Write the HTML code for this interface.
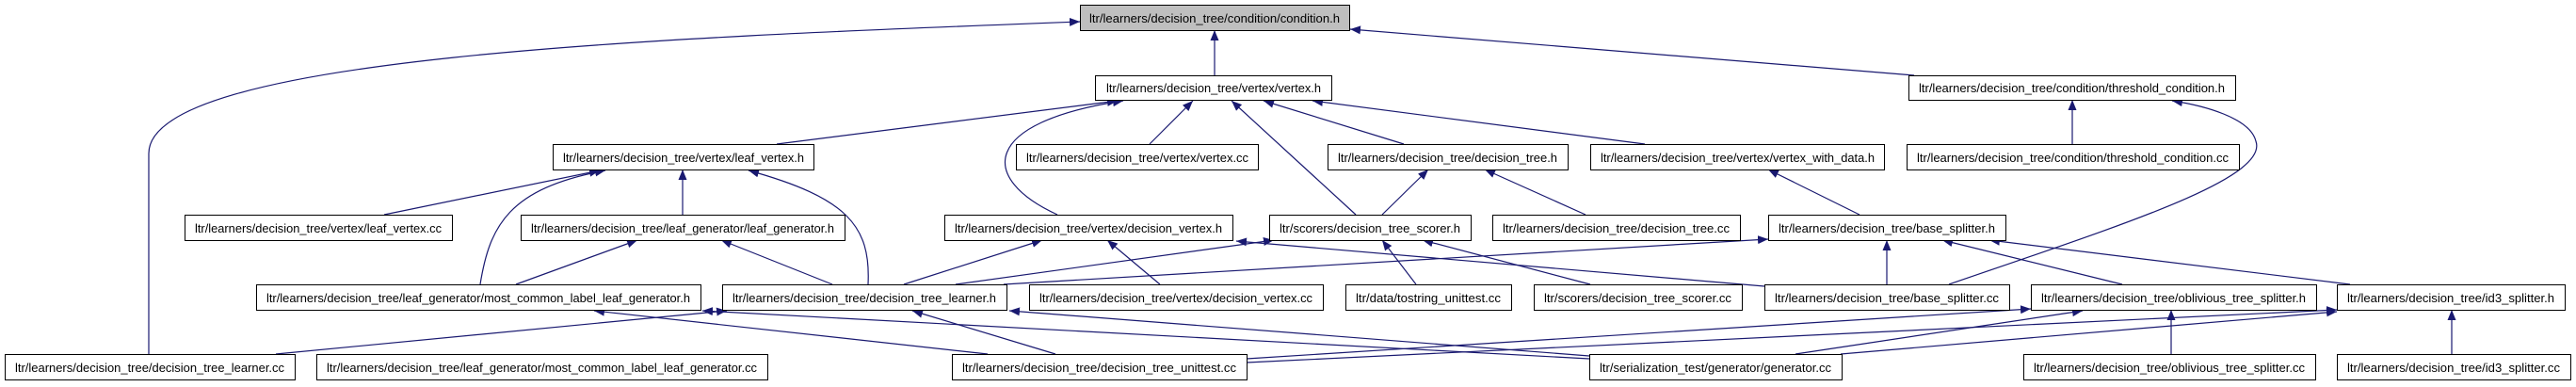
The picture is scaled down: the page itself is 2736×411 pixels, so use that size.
<!DOCTYPE html>
<html><head><meta charset="utf-8"><style>
html,body{margin:0;padding:0;background:#fff;}
svg{display:block;}
text{font-family:"Liberation Sans",sans-serif;font-size:13px;fill:#000;}
</style></head><body>
<svg width="2736" height="411" viewBox="0 0 2736 411" xmlns="http://www.w3.org/2000/svg">
<defs>
<marker id="a" markerUnits="userSpaceOnUse" markerWidth="12" markerHeight="10" refX="11" refY="4.5" orient="auto">
<path d="M0,0 L11,4.5 L0,9 Z" fill="#191970"/>
</marker>
</defs>
<g fill="none" stroke="#191970" stroke-width="1.2" marker-end="url(#a)">
<path d="M158,376 L158,163 C158,60 700,40 1147,23"/>
<path d="M1290,80 L1290,32"/>
<path d="M2033,80 L1434,31"/>
<path d="M825,153 L1187,107"/>
<path d="M1221,153 L1267,107"/>
<path d="M1123,228 C1040,190 1040,130 1193,107"/>
<path d="M1440,228 L1308,107"/>
<path d="M1491,153 L1342,107"/>
<path d="M1747,153 L1394,107"/>
<path d="M2201,153 L2201,106"/>
<path d="M2070,302 C2250,240 2410,190 2396,150 C2390,125 2340,112 2307,107"/>
<path d="M408,228 L637,181"/>
<path d="M725,228 L725,180"/>
<path d="M510,302 C520,240 540,200 643,181"/>
<path d="M922,302 C925,240 900,210 795,181"/>
<path d="M548,302 L677,255"/>
<path d="M884,302 L766,255"/>
<path d="M960,302 L1107,255"/>
<path d="M1232,302 L1176,255"/>
<path d="M1015,302 L1353,255"/>
<path d="M1504,302 L1468,255"/>
<path d="M1689,302 L1511,255"/>
<path d="M1468,228 L1517,180"/>
<path d="M1684,228 L1577,180"/>
<path d="M1975,228 L1878,180"/>
<path d="M1874,304 L1313,256"/>
<path d="M1066,302 L1878,254"/>
<path d="M2004,302 L2004,255"/>
<path d="M2254,302 L2063,255"/>
<path d="M2496,302 L2113,255"/>
<path d="M2306,376 L2306,329"/>
<path d="M2604,376 L2604,329"/>
<path d="M293,376 L772,330"/>
<path d="M1049,376 L631,330"/>
<path d="M1688,381 L746,330"/>
<path d="M1121,376 L969,330"/>
<path d="M1688,378 L1072,330"/>
<path d="M1324,381 L2157,328"/>
<path d="M1907,376 L2212,330"/>
<path d="M1324,385 L2482,329"/>
<path d="M1955,376 L2482,331"/>
</g>
<g stroke="#000" stroke-width="1" fill="#fff">
<rect x="1147.5" y="5.5" width="286" height="27" fill="#bfbfbf"/>
<rect x="1163.5" y="80.5" width="251" height="26"/>
<rect x="2027.5" y="80.5" width="347" height="26"/>
<rect x="587.5" y="153.5" width="277" height="27"/>
<rect x="1079.5" y="153.5" width="257" height="27"/>
<rect x="1410.5" y="153.5" width="255" height="27"/>
<rect x="1689.5" y="153.5" width="312" height="27"/>
<rect x="2025.5" y="153.5" width="353" height="27"/>
<rect x="196.5" y="228.5" width="284" height="27"/>
<rect x="553.5" y="228.5" width="344" height="27"/>
<rect x="1003.5" y="228.5" width="306" height="27"/>
<rect x="1348.5" y="228.5" width="214" height="27"/>
<rect x="1585.5" y="228.5" width="263" height="27"/>
<rect x="1878.5" y="228.5" width="252" height="27"/>
<rect x="272.5" y="302.5" width="472" height="27"/>
<rect x="767.5" y="302.5" width="302" height="27"/>
<rect x="1093.5" y="302.5" width="312" height="27"/>
<rect x="1429.5" y="302.5" width="176" height="27"/>
<rect x="1629.5" y="302.5" width="221" height="27"/>
<rect x="1874.5" y="302.5" width="260" height="27"/>
<rect x="2157.5" y="302.5" width="303" height="27"/>
<rect x="2482.5" y="302.5" width="242" height="27"/>
<rect x="5.5" y="376.5" width="308" height="27"/>
<rect x="336.5" y="376.5" width="479" height="27"/>
<rect x="1011.5" y="376.5" width="313" height="27"/>
<rect x="1688.5" y="376.5" width="268" height="27"/>
<rect x="2149.5" y="376.5" width="310" height="27"/>
<rect x="2482.5" y="376.5" width="248" height="27"/>
</g>
<g lengthAdjust="spacingAndGlyphs">
<text x="1157" y="24" textLength="266" lengthAdjust="spacingAndGlyphs">ltr/learners/decision_tree/condition/condition.h</text>
<text x="1175" y="98" textLength="228" lengthAdjust="spacingAndGlyphs">ltr/learners/decision_tree/vertex/vertex.h</text>
<text x="2038" y="98" textLength="325" lengthAdjust="spacingAndGlyphs">ltr/learners/decision_tree/condition/threshold_condition.h</text>
<text x="598" y="172" textLength="256" lengthAdjust="spacingAndGlyphs">ltr/learners/decision_tree/vertex/leaf_vertex.h</text>
<text x="1090" y="172" textLength="236" lengthAdjust="spacingAndGlyphs">ltr/learners/decision_tree/vertex/vertex.cc</text>
<text x="1421" y="172" textLength="233" lengthAdjust="spacingAndGlyphs">ltr/learners/decision_tree/decision_tree.h</text>
<text x="1700" y="172" textLength="291" lengthAdjust="spacingAndGlyphs">ltr/learners/decision_tree/vertex/vertex_with_data.h</text>
<text x="2036" y="172" textLength="331" lengthAdjust="spacingAndGlyphs">ltr/learners/decision_tree/condition/threshold_condition.cc</text>
<text x="207" y="247" textLength="262" lengthAdjust="spacingAndGlyphs">ltr/learners/decision_tree/vertex/leaf_vertex.cc</text>
<text x="564" y="247" textLength="322" lengthAdjust="spacingAndGlyphs">ltr/learners/decision_tree/leaf_generator/leaf_generator.h</text>
<text x="1014" y="247" textLength="284" lengthAdjust="spacingAndGlyphs">ltr/learners/decision_tree/vertex/decision_vertex.h</text>
<text x="1359" y="247" textLength="192" lengthAdjust="spacingAndGlyphs">ltr/scorers/decision_tree_scorer.h</text>
<text x="1596" y="247" textLength="241" lengthAdjust="spacingAndGlyphs">ltr/learners/decision_tree/decision_tree.cc</text>
<text x="1889" y="247" textLength="230" lengthAdjust="spacingAndGlyphs">ltr/learners/decision_tree/base_splitter.h</text>
<text x="283" y="321" textLength="450" lengthAdjust="spacingAndGlyphs">ltr/learners/decision_tree/leaf_generator/most_common_label_leaf_generator.h</text>
<text x="778" y="321" textLength="280" lengthAdjust="spacingAndGlyphs">ltr/learners/decision_tree/decision_tree_learner.h</text>
<text x="1104" y="321" textLength="290" lengthAdjust="spacingAndGlyphs">ltr/learners/decision_tree/vertex/decision_vertex.cc</text>
<text x="1440" y="321" textLength="154" lengthAdjust="spacingAndGlyphs">ltr/data/tostring_unittest.cc</text>
<text x="1640" y="321" textLength="199" lengthAdjust="spacingAndGlyphs">ltr/scorers/decision_tree_scorer.cc</text>
<text x="1885" y="321" textLength="238" lengthAdjust="spacingAndGlyphs">ltr/learners/decision_tree/base_splitter.cc</text>
<text x="2168" y="321" textLength="281" lengthAdjust="spacingAndGlyphs">ltr/learners/decision_tree/oblivious_tree_splitter.h</text>
<text x="2493" y="321" textLength="220" lengthAdjust="spacingAndGlyphs">ltr/learners/decision_tree/id3_splitter.h</text>
<text x="16" y="395" textLength="286" lengthAdjust="spacingAndGlyphs">ltr/learners/decision_tree/decision_tree_learner.cc</text>
<text x="347" y="395" textLength="457" lengthAdjust="spacingAndGlyphs">ltr/learners/decision_tree/leaf_generator/most_common_label_leaf_generator.cc</text>
<text x="1022" y="395" textLength="291" lengthAdjust="spacingAndGlyphs">ltr/learners/decision_tree/decision_tree_unittest.cc</text>
<text x="1699" y="395" textLength="246" lengthAdjust="spacingAndGlyphs">ltr/serialization_test/generator/generator.cc</text>
<text x="2160" y="395" textLength="288" lengthAdjust="spacingAndGlyphs">ltr/learners/decision_tree/oblivious_tree_splitter.cc</text>
<text x="2493" y="395" textLength="226" lengthAdjust="spacingAndGlyphs">ltr/learners/decision_tree/id3_splitter.cc</text>
</g>
</svg>
</body></html>
